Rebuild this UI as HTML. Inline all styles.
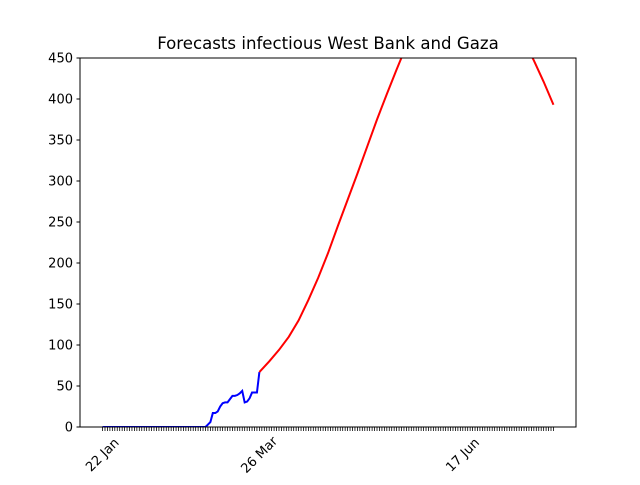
<!DOCTYPE html>
<html><head><meta charset="utf-8"><style>
body{margin:0;background:#fff;}
svg text{font-family:"DejaVu Sans","Liberation Sans",sans-serif;fill:#000;}
</style></head><body>
<svg id="chart" width="640" height="480" viewBox="0 0 640 480" xmlns="http://www.w3.org/2000/svg">
<rect width="640" height="480" fill="#fff"/>
<text x="328" y="49" font-size="16.6" text-anchor="middle">Forecasts infectious West Bank and Gaza</text>
<defs><clipPath id="plotclip"><rect x="80" y="58" width="496" height="369"/></clipPath></defs>
<g id="yticks"></g>
<g id="xticks"></g>
<g clip-path="url(#plotclip)">
<polyline id="obs" fill="none" stroke="#0000ff" stroke-width="2"/>
<polyline id="fc" fill="none" stroke="#ff0000" stroke-width="2"/>
</g>
<rect x="80" y="58" width="496" height="369" fill="none" stroke="#000" stroke-width="1"/>
</svg>
<script>
const obsDays=[0,42,43,44,45,46,47,48,49,50,51,52,53,54,55,56,57,58,59,60,61,62,63,64];
const obsValues=[0,0,3,6,17,17,19,25,29,30,30,34,38,38,39,41,44,30,31,35,42,42,42,67];
const fcDays=[64,68,72,76,80,84,88,92,96,100,104,108,112,116,120,124,128,132,136,140,144,148,152,156,160,164,168,172,176,180,184];
const fcValues=[67,80,94,110,130,155,182,212,245,277,309,342,375,406,436,465,492,515,533,546,553,555,552,543,530,512,492,470,447,421,393];
const yTicks=[0,50,100,150,200,250,300,350,400,450];
const xLabelDays=[0,64,147];
const xLabels=["22 Jan","26 Mar","17 Jun"];
const nDays=185;
const NS="http://www.w3.org/2000/svg";
const xMin=-9.2,xMax=193.2;
function X(d){return 80+(d-xMin)/(xMax-xMin)*496;}
function Y(v){return 427-v/450*369;}
const yg=document.getElementById('yticks');
yTicks.forEach(v=>{
  const l=document.createElementNS(NS,'line');
  l.setAttribute('x1',76.5);l.setAttribute('x2',80);l.setAttribute('y1',Y(v));l.setAttribute('y2',Y(v));l.setAttribute('stroke','#000');
  
  
  yg.appendChild(l);
  const t=document.createElementNS(NS,'text');
  t.setAttribute('x',73);t.setAttribute('y',Y(v)+4.5);t.setAttribute('font-size','13');t.setAttribute('text-anchor','end');
  t.textContent=v;
  
  
  yg.appendChild(t);
});
const xg=document.getElementById('xticks');
for(let d=0;d<nDays;d++){
  const l=document.createElementNS(NS,'line');
  l.setAttribute('x1',X(d));l.setAttribute('x2',X(d));l.setAttribute('y1',427);l.setAttribute('y2',431);l.setAttribute('stroke','#000');l.setAttribute('stroke-width','0.8');
  
  
  xg.appendChild(l);
}
xLabelDays.forEach((d,i)=>{
  const t=document.createElementNS(NS,'text');
  const cx=X(d),cy=455;
  t.setAttribute('x',cx);t.setAttribute('y',cy+4);t.setAttribute('font-size','13');t.setAttribute('text-anchor','middle');
  t.setAttribute('transform','rotate(-45 '+cx+' '+cy+')');
  t.textContent=xLabels[i];
  
  
  xg.appendChild(t);
});
document.getElementById('obs').setAttribute('points',obsDays.map((d,i)=>X(d)+','+Y(obsValues[i])).join(' '));
document.getElementById('fc').setAttribute('points',fcDays.map((d,i)=>X(d)+','+Y(fcValues[i])).join(' '));
</script>
</body></html>
